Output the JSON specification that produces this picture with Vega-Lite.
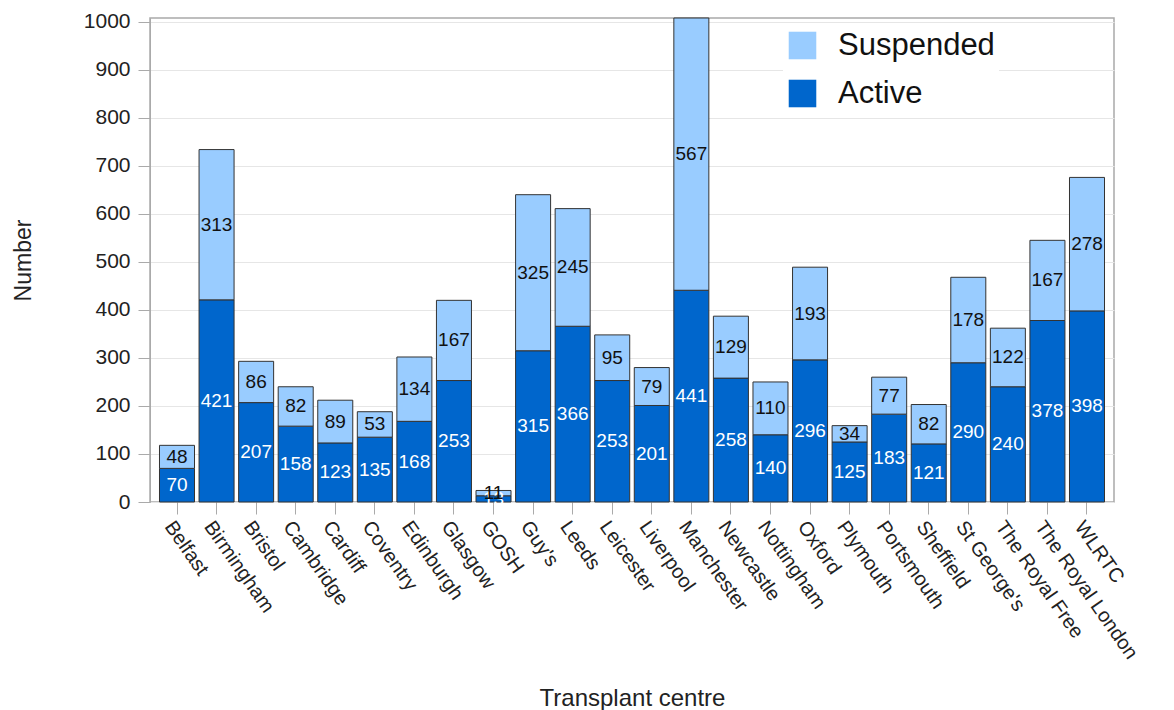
{
  "$schema": "https://vega.github.io/schema/vega-lite/v6.json",
  "autosize": "none",
  "width": 964,
  "height": 484,
  "padding": {"left": 150, "top": 18, "right": 60, "bottom": 208},
  "background": "white",
  "config": {
    "font": "Liberation Sans",
    "view": {"stroke": "#a9a9a9", "strokeWidth": 1.5},
    "axis": {"labelFont": "Liberation Sans", "titleFont": "Liberation Sans", "labelColor": "#222", "titleColor": "#222", "tickColor": "#aaa", "domainColor": "#aaa", "gridColor": "#e6e6e6"}
  },
  "data": {
    "values": [
      {"centre": "Belfast", "status": "Active", "value": 70},
      {"centre": "Belfast", "status": "Suspended", "value": 48},
      {"centre": "Birmingham", "status": "Active", "value": 421},
      {"centre": "Birmingham", "status": "Suspended", "value": 313},
      {"centre": "Bristol", "status": "Active", "value": 207},
      {"centre": "Bristol", "status": "Suspended", "value": 86},
      {"centre": "Cambridge", "status": "Active", "value": 158},
      {"centre": "Cambridge", "status": "Suspended", "value": 82},
      {"centre": "Cardiff", "status": "Active", "value": 123},
      {"centre": "Cardiff", "status": "Suspended", "value": 89},
      {"centre": "Coventry", "status": "Active", "value": 135},
      {"centre": "Coventry", "status": "Suspended", "value": 53},
      {"centre": "Edinburgh", "status": "Active", "value": 168},
      {"centre": "Edinburgh", "status": "Suspended", "value": 134},
      {"centre": "Glasgow", "status": "Active", "value": 253},
      {"centre": "Glasgow", "status": "Suspended", "value": 167},
      {"centre": "GOSH", "status": "Active", "value": 13},
      {"centre": "GOSH", "status": "Suspended", "value": 11},
      {"centre": "Guy's", "status": "Active", "value": 315},
      {"centre": "Guy's", "status": "Suspended", "value": 325},
      {"centre": "Leeds", "status": "Active", "value": 366},
      {"centre": "Leeds", "status": "Suspended", "value": 245},
      {"centre": "Leicester", "status": "Active", "value": 253},
      {"centre": "Leicester", "status": "Suspended", "value": 95},
      {"centre": "Liverpool", "status": "Active", "value": 201},
      {"centre": "Liverpool", "status": "Suspended", "value": 79},
      {"centre": "Manchester", "status": "Active", "value": 441},
      {"centre": "Manchester", "status": "Suspended", "value": 567},
      {"centre": "Newcastle", "status": "Active", "value": 258},
      {"centre": "Newcastle", "status": "Suspended", "value": 129},
      {"centre": "Nottingham", "status": "Active", "value": 140},
      {"centre": "Nottingham", "status": "Suspended", "value": 110},
      {"centre": "Oxford", "status": "Active", "value": 296},
      {"centre": "Oxford", "status": "Suspended", "value": 193},
      {"centre": "Plymouth", "status": "Active", "value": 125},
      {"centre": "Plymouth", "status": "Suspended", "value": 34},
      {"centre": "Portsmouth", "status": "Active", "value": 183},
      {"centre": "Portsmouth", "status": "Suspended", "value": 77},
      {"centre": "Sheffield", "status": "Active", "value": 121},
      {"centre": "Sheffield", "status": "Suspended", "value": 82},
      {"centre": "St George's", "status": "Active", "value": 290},
      {"centre": "St George's", "status": "Suspended", "value": 178},
      {"centre": "The Royal Free", "status": "Active", "value": 240},
      {"centre": "The Royal Free", "status": "Suspended", "value": 122},
      {"centre": "The Royal London", "status": "Active", "value": 378},
      {"centre": "The Royal London", "status": "Suspended", "value": 167},
      {"centre": "WLRTC", "status": "Active", "value": 398},
      {"centre": "WLRTC", "status": "Suspended", "value": 278}
    ]
  },
  "transform": [
    {"stack": "value", "groupby": ["centre"], "sort": [{"field": "status", "order": "ascending"}], "as": ["v0", "v1"]},
    {"calculate": "(datum.v0 + datum.v1) / 2", "as": "vmid"}
  ],
  "encoding": {
    "x": {
      "field": "centre", "type": "nominal", "sort": null,
      "scale": {"paddingInner": 0.115, "paddingOuter": 0.24},
      "axis": {"title": "Transplant centre", "titleFontSize": 24, "titleFontWeight": "normal", "titlePadding": 24, "labelAngle": 55, "labelAlign": "left", "labelBaseline": "top", "labelFontSize": 20, "labelPadding": 3, "tickSize": 12, "domain": false, "labelOverlap": false, "labelLimit": 300}
    }
  },
  "layer": [
    {
      "mark": {"type": "bar", "stroke": "#333", "strokeWidth": 1},
      "encoding": {
        "y": {"field": "v0", "type": "quantitative",
          "scale": {"domain": [0, 1008], "nice": false},
          "axis": {"title": "Number", "titleFontSize": 23, "titleFontWeight": "normal", "titlePadding": 48, "labelFontSize": 21, "tickSize": 12, "labelPadding": 8, "format": "d", "values": [0,100,200,300,400,500,600,700,800,900,1000], "grid": true}},
        "y2": {"field": "v1"},
        "color": {"field": "status", "type": "nominal",
          "scale": {"domain": ["Suspended", "Active"], "range": ["#99CCFF", "#0066CC"]},
          "legend": {"title": null, "orient": "none", "legendX": 633, "legendY": 8, "symbolType": "square", "symbolSize": 760, "symbolStrokeWidth": 0, "labelFontSize": 31, "labelOffset": 20, "rowPadding": 16, "fillColor": "white", "padding": 4, "labelColor": "#111"}}
      }
    },
    {
      "mark": {"type": "text", "fontSize": 19, "baseline": "middle", "align": "center"},
      "encoding": {
        "y": {"field": "vmid", "type": "quantitative"},
        "text": {"field": "value", "type": "quantitative"},
        "color": {"condition": {"test": "datum.status === 'Active'", "value": "white"}, "value": "#111"}
      }
    }
  ]
}
